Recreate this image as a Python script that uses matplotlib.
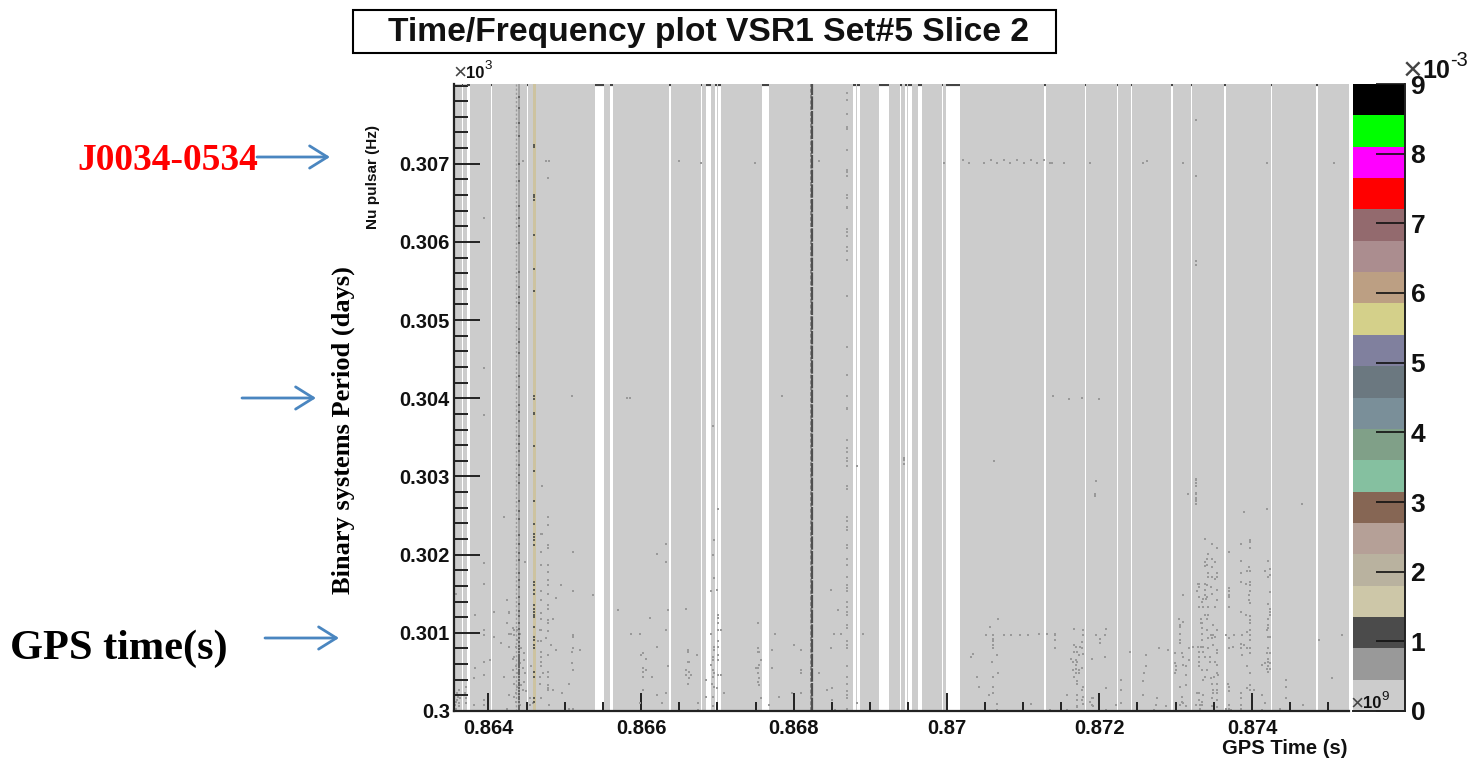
import matplotlib
matplotlib.use("Agg")
import matplotlib.pyplot as plt
import matplotlib.ticker
import numpy as np
from matplotlib.patches import Rectangle, FancyArrowPatch

W, H = 1476, 760
SCALE = 1e-5  # the event lists below are stored in units of 1e-5 (x: 1e9 s, y: 1e3 Hz)

title = "Time/Frequency plot VSR1 Set#5 Slice 2"
x_major = [0.864, 0.866, 0.868, 0.870, 0.872, 0.874]
x_major_labels = ["0.864", "0.866", "0.868", "0.87", "0.872", "0.874"]
y_major = [0.300, 0.301, 0.302, 0.303, 0.304, 0.305, 0.306, 0.307]
y_major_labels = ["0.3", "0.301", "0.302", "0.303", "0.304", "0.305", "0.306", "0.307"]
x_range = [0.86355, 0.87527]
y_range = [0.300, 0.30802]

# segments with no data (start, end)
gaps = [(86365, 86367), (86372, 86376), (86404, 86405), (86450, 86452), (86540, 86551), (86559, 86563),
        (86637, 86639), (86679, 86680), (86685, 86692), (86697, 86699), (86701, 86704), (86758, 86767),
        (86878, 86881), (86883, 86887), (86912, 86925), (86939, 86941), (86946, 86948), (86950, 86955),
        (86962, 86968), (86994, 86995), (86999, 87017), (87128, 87130), (87181, 87183), (87223, 87225),
        (87242, 87243), (87294, 87297), (87320, 87322), (87363, 87366), (87425, 87426), (87484, 87486),
        (87503, 87504)]

tan_band = (86458, 86462)
faint_stripe_times = [86436]
mid_stripe_times = [86440]
dark_stripe_times = [86824]
dark_stripe_side_times = [86822]

tan_dots_t = 86460
tan_dots_f = [30724, 30722, 30660, 30658, 30654, 30609, 30565, 30537, 30403, 30399, 30381, 30380, 30339, 30307,
              30269, 30239, 30227, 30223, 30219, 30212, 30165, 30161, 30155, 30150, 30136, 30131, 30127, 30123,
              30120, 30108, 30095, 30091, 30084, 30080, 30050, 30044, 30016, 30012]

stripe_a_dense_t = 86440
stripe_a_dense_f = [30001, 30004, 30007, 30011, 30015, 30018, 30022, 30026, 30029, 30033, 30036, 30040, 30043, 30047,
                    30050, 30053, 30056, 30059, 30062, 30064, 30066, 30068, 30070, 30072, 30075, 30079, 30083, 30088,
                    30093, 30098, 30105, 30112, 30121, 30128, 30137, 30146, 30158, 30167, 30177, 30193, 30202, 30214,
                    30225, 30245, 30256, 30268, 30291, 30302, 30315, 30333, 30341, 30352, 30371, 30383, 30392, 30415,
                    30429, 30458, 30472, 30489, 30522, 30530, 30542, 30561, 30598, 30620, 30631, 30646, 30678, 30700,
                    30736, 30752, 30771, 30785]

stripe_b_dense_t = 86869
stripe_b_dense_f = [30790, 30781, 30763, 30747, 30745, 30718, 30692, 30690, 30684, 30660, 30656, 30645, 30643, 30616,
                    30613, 30607, 30594, 30588, 30577, 30531, 30466, 30430, 30403, 30388, 30386, 30346, 30337, 30331,
                    30324, 30320, 30314, 30288, 30284, 30248, 30243, 30235, 30231, 30212, 30208, 30195, 30187, 30172,
                    30161, 30157, 30153, 30140, 30133, 30127, 30123, 30110, 30106, 30089, 30084, 30080, 30057, 30044,
                    30035, 30025, 30020, 30016, 30003]

sparse_top = [(86394, 30630), (86394, 30439), (86394, 30378), (86475, 30703), (86480, 30703), (86478, 30682),
              (86445, 30703), (86509, 30403), (86581, 30401), (86585, 30401), (86470, 30288), (86421, 30248),
              (86478, 30248), (86478, 30238), (86470, 30227), (86650, 30703), (86678, 30701), (86749, 30701),
              (86784, 30403), (86833, 30703), (86694, 30365), (86701, 30258), (86997, 30701), (87022, 30705),
              (87030, 30701), (86883, 30314), (86944, 30323), (86944, 30321), (86944, 30316), (87049, 30701),
              (87058, 30705), (87066, 30701), (87075, 30705), (87083, 30701), (87092, 30705), (87102, 30701),
              (87110, 30705), (87119, 30701), (87127, 30705), (87136, 30701), (87138, 30701), (87154, 30701),
              (87188, 30701), (87257, 30701), (87263, 30703), (87310, 30701), (87419, 30701), (87507, 30701),
              (87327, 30756), (87327, 30684), (87327, 30576), (87327, 30571), (87140, 30403), (87160, 30399),
              (87178, 30401), (87200, 30399), (87062, 30320), (87196, 30294), (87194, 30277), (87194, 30275),
              (87316, 30277), (87327, 30297), (87327, 30295), (87327, 30292), (87327, 30288), (87327, 30279),
              (87327, 30277), (87327, 30273), (87327, 30271), (87327, 30269), (87327, 30265), (87390, 30254),
              (87419, 30258), (87465, 30265)]

cluster_left = [(86394, 30189), (86394, 30163), (86394, 30104), (86394, 30097), (86394, 30063), (86394, 30046),
                (86394, 30014), (86394, 30008), (86383, 30123), (86383, 30055), (86381, 30042), (86381, 30008),
                (86407, 30127), (86407, 30095), (86402, 30065), (86358, 30150), (86357, 30012), (86359, 30023),
                (86361, 30006), (86362, 30027), (86358, 30003), (86363, 30016), (86371, 30031), (86370, 30023),
                (86371, 30010), (86371, 30016), (86359, 30014), (86362, 30010), (86356, 30008), (86360, 30018)]

cluster_a = [(86425, 30142), (86427, 30127), (86427, 30125), (86425, 30112), (86432, 30106), (86427, 30099),
             (86430, 30099), (86434, 30104), (86438, 30104), (86441, 30099), (86434, 30097), (86438, 30091),
             (86417, 30087), (86427, 30082), (86436, 30082), (86443, 30080), (86447, 30074), (86447, 30065),
             (86432, 30067), (86434, 30069), (86441, 30061), (86445, 30055), (86436, 30057), (86432, 30052),
             (86421, 30044), (86434, 30044), (86438, 30048), (86448, 30048), (86447, 30037), (86443, 30033),
             (86434, 30035), (86438, 30031), (86427, 30020), (86436, 30023), (86445, 30027), (86449, 30025),
             (86425, 30003), (86436, 30012), (86441, 30008), (86434, 30018), (86448, 30190)]

cluster_b = [(86478, 30212), (86478, 30208), (86478, 30187), (86478, 30178), (86478, 30168), (86478, 30161),
             (86478, 30150), (86478, 30136), (86478, 30131), (86478, 30116), (86478, 30112), (86478, 30102),
             (86478, 30072), (86478, 30050), (86478, 30044), (86478, 30033), (86478, 30029), (86469, 30226),
             (86469, 30203), (86469, 30187), (86469, 30153), (86469, 30142), (86469, 30125), (86469, 30118),
             (86469, 30104), (86469, 30089), (86469, 30076), (86469, 30069), (86469, 30063), (86469, 30057),
             (86469, 30016), (86484, 30118), (86489, 30144), (86495, 30161), (86511, 30203), (86511, 30153),
             (86511, 30097), (86511, 30095), (86511, 30080), (86509, 30076), (86520, 30078), (86509, 30061),
             (86511, 30052), (86537, 30148), (86570, 30129), (86587, 30099), (86505, 30035), (86497, 30023),
             (86489, 30078), (86482, 30084), (86475, 30093), (86467, 30104), (86465, 30089), (86467, 30044),
             (86471, 30048), (86467, 30035), (86484, 30027), (86478, 30027), (86480, 30008), (86505, 30003),
             (86511, 30003), (86456, 30057), (86454, 30016), (86458, 30010), (86455, 30008)]

cluster_c = [(86598, 30099), (86621, 30201), (86633, 30214), (86633, 30190), (86635, 30129), (86612, 30119),
             (86633, 30104), (86621, 30082), (86600, 30072), (86602, 30074), (86606, 30067), (86602, 30055),
             (86606, 30052), (86602, 30050), (86602, 30044), (86614, 30044), (86635, 30057), (86602, 30027),
             (86621, 30020), (86633, 30023), (86598, 30010), (86627, 30010), (86659, 30131), (86661, 30078),
             (86662, 30076), (86661, 30063), (86663, 30063), (86673, 30072), (86659, 30052), (86659, 30046),
             (86663, 30050), (86665, 30046), (86663, 30042), (86661, 30035), (86675, 30010), (86675, 30001),
             (86696, 30219), (86694, 30200), (86696, 30170), (86692, 30153), (86692, 30099), (86700, 30155),
             (86701, 30123), (86701, 30119), (86701, 30112), (86701, 30104), (86705, 30104), (86701, 30089),
             (86696, 30082), (86696, 30078), (86701, 30082), (86701, 30072), (86701, 30065), (86694, 30069),
             (86694, 30065), (86692, 30059), (86694, 30052), (86696, 30048), (86701, 30046), (86705, 30046),
             (86694, 30044), (86685, 30040), (86693, 30035), (86695, 30031), (86700, 30029), (86685, 30018),
             (86694, 30018), (86709, 30023), (86694, 30006)]

cluster_d = [(86753, 30112), (86753, 30080), (86753, 30076), (86755, 30076), (86757, 30065), (86755, 30059),
             (86753, 30055), (86751, 30055), (86753, 30048), (86755, 30042), (86753, 30037), (86755, 30033),
             (86757, 30016), (86768, 30008), (86776, 30099), (86772, 30078), (86772, 30055), (86780, 30018),
             (86800, 30084), (86810, 30078), (86810, 30052), (86810, 30048), (86810, 30023), (86798, 30023),
             (86833, 30048), (86843, 30027), (86850, 30029), (86849, 30080), (86849, 30155), (86858, 30129),
             (86852, 30099), (86862, 30099), (86890, 30099), (86883, 30010), (86850, 30014), (86854, 30001)]

cluster_e = [(87068, 30118), (87057, 30107), (87051, 30097), (87061, 30097), (87075, 30097), (87085, 30097),
             (87096, 30097), (87106, 30097), (87121, 30099), (87131, 30099), (87142, 30099), (87142, 30097),
             (87061, 30092), (87061, 30090), (87061, 30084), (87061, 30080), (87142, 30091), (87142, 30080),
             (87066, 30071), (87034, 30073), (87032, 30069), (87060, 30063), (87068, 30048), (87040, 30044),
             (87061, 30044), (87043, 30031), (87061, 30031), (87061, 30023), (87055, 30021), (87066, 30009),
             (87066, 30001), (87110, 30009), (87136, 30001), (87158, 30021), (87158, 30001)]

cluster_f = [(87167, 30105), (87179, 30103), (87179, 30097), (87167, 30084), (87169, 30082), (87177, 30088),
             (87175, 30082), (87177, 30080), (87167, 30075), (87171, 30075), (87179, 30073), (87173, 30071),
             (87163, 30067), (87169, 30065), (87166, 30063), (87171, 30063), (87169, 30059), (87177, 30055),
             (87165, 30053), (87169, 30054), (87173, 30052), (87169, 30048), (87173, 30048), (87167, 30044),
             (87171, 30038), (87171, 30035), (87179, 30031), (87177, 30027), (87171, 30021), (87179, 30018),
             (87171, 30014), (87177, 30014), (87179, 30009), (87171, 30007), (87171, 30005), (87190, 30067),
             (87196, 30097), (87207, 30097), (87209, 30105), (87201, 30092), (87201, 30087), (87207, 30069),
             (87209, 30029), (87190, 30016), (87192, 30016), (87188, 30012), (87190, 30008), (87192, 30006),
             (87209, 30001), (87222, 30008), (87228, 30040), (87228, 30027), (87228, 30010), (87240, 30075),
             (87261, 30071), (87261, 30057), (87259, 30048), (87257, 30038), (87257, 30020), (87276, 30016),
             (87274, 30008), (87272, 30001), (87278, 30081)]

cluster_g = [(87339, 30220), (87347, 30214), (87354, 30209), (87343, 30201), (87347, 30194), (87341, 30194),
             (87352, 30190), (87339, 30190), (87339, 30186), (87341, 30187), (87347, 30184), (87343, 30177),
             (87354, 30177), (87343, 30171), (87347, 30171), (87352, 30169), (87354, 30171), (87329, 30163),
             (87330, 30163), (87339, 30163), (87341, 30161), (87346, 30159), (87330, 30159), (87338, 30155),
             (87354, 30155), (87328, 30153), (87347, 30150), (87339, 30148), (87330, 30146), (87341, 30146),
             (87336, 30143), (87340, 30143), (87354, 30142), (87334, 30140), (87330, 30133), (87336, 30133),
             (87343, 30133), (87352, 30133), (87339, 30123), (87343, 30123), (87333, 30118), (87341, 30118),
             (87333, 30112), (87335, 30112), (87349, 30110), (87334, 30106), (87341, 30104), (87335, 30099),
             (87354, 30104), (87346, 30097), (87349, 30097), (87352, 30095), (87342, 30093), (87347, 30093),
             (87335, 30091), (87333, 30082), (87329, 30082), (87323, 30082), (87336, 30082), (87343, 30080),
             (87349, 30084), (87354, 30078), (87354, 30074), (87331, 30076), (87336, 30076), (87338, 30069),
             (87345, 30069), (87331, 30069), (87330, 30063), (87345, 30063), (87352, 30063), (87354, 30059),
             (87341, 30052), (87330, 30057), (87334, 30052), (87336, 30040), (87339, 30044), (87346, 30042),
             (87350, 30044), (87354, 30048), (87356, 30046), (87347, 30035), (87354, 30035), (87349, 30027),
             (87354, 30027), (87349, 30023), (87328, 30023), (87330, 30023), (87336, 30020), (87354, 30023),
             (87347, 30016), (87330, 30014), (87334, 30012), (87354, 30014), (87327, 30008), (87332, 30008),
             (87335, 30008), (87347, 30006), (87332, 30003), (87354, 30005)]

cluster_h = [(87306, 30110), (87304, 30118), (87310, 30114), (87306, 30108), (87306, 30099), (87306, 30091),
             (87306, 30087), (87290, 30078), (87299, 30074), (87308, 30074), (87310, 30069), (87317, 30080),
             (87318, 30065), (87299, 30061), (87301, 30057), (87301, 30052), (87299, 30048), (87310, 30059),
             (87314, 30057), (87314, 30046), (87306, 30031), (87314, 30033), (87308, 30018), (87308, 30012),
             (87310, 30010), (87306, 30008), (87314, 30006), (87288, 30006), (87310, 30148)]

cluster_i = [(87398, 30219), (87398, 30216), (87398, 30209), (87385, 30214), (87370, 30203), (87385, 30192),
             (87396, 30184), (87394, 30179), (87398, 30179), (87385, 30176), (87385, 30165), (87392, 30163),
             (87398, 30165), (87398, 30161), (87398, 30153), (87396, 30148), (87396, 30142), (87398, 30138),
             (87370, 30157), (87370, 30153), (87370, 30148), (87370, 30146), (87370, 30133), (87385, 30127),
             (87392, 30123), (87398, 30121), (87398, 30116), (87398, 30112), (87398, 30104), (87394, 30101),
             (87398, 30097), (87398, 30091), (87366, 30097), (87376, 30097), (87387, 30097), (87370, 30093),
             (87385, 30086), (87385, 30080), (87375, 30082), (87370, 30080), (87390, 30084), (87394, 30080),
             (87398, 30080), (87398, 30074), (87387, 30072), (87394, 30057), (87398, 30048), (87368, 30035),
             (87370, 30031), (87370, 30025), (87385, 30023), (87385, 30016), (87394, 30029), (87398, 30033),
             (87398, 30027), (87403, 30027), (87413, 30020), (87417, 30010), (87413, 30001), (87385, 30008),
             (87386, 30003), (87370, 30008), (87366, 30003), (87370, 30003), (87373, 30001)]

cluster_j = [(87421, 30192), (87423, 30182), (87417, 30179), (87423, 30174), (87421, 30171), (87423, 30152),
             (87421, 30137), (87423, 30131), (87423, 30127), (87423, 30123), (87421, 30118), (87421, 30110),
             (87421, 30106), (87420, 30104), (87421, 30095), (87423, 30095), (87421, 30080), (87420, 30074),
             (87423, 30074), (87421, 30067), (87421, 30063), (87417, 30061), (87413, 30059), (87423, 30061),
             (87421, 30057), (87419, 30054), (87423, 30054), (87421, 30050), (87444, 30040), (87444, 30031),
             (87444, 30016), (87436, 30003), (87467, 30008), (87488, 30091), (87518, 30097), (87505, 30042)]

colorbar_colors = ["#cccccc", "#999999", "#4b4b4b", "#cdc7a8", "#b9b29f", "#b5a097", "#866654", "#85c0a0",
                   "#80a088", "#7a8f99", "#6b7880", "#80809e", "#d4d08a", "#bc9f83", "#ab8d8f", "#936a6e",
                   "#ff0000", "#ff00ff", "#00ff00", "#000000"]
colorbar_ticks = [0, 1, 2, 3, 4, 5, 6, 7, 8, 9]
colorbar_top = 9.0


def box(l, t, r, b):
    return [l / W, 1 - b / H, (r - l) / W, (b - t) / H]


def ftext(x, y, s, **kw):
    return fig.text(x / W, 1 - y / H, s, **kw)


SANS = "Liberation Sans"
SERIF = "Liberation Serif"
fig = plt.figure(figsize=(W / 100, H / 100), dpi=100, facecolor="white")

# main plot
ax = fig.add_axes(box(454, 84, 1349, 711), facecolor="#cccccc")
ax.set_xlim(*x_range)
ax.set_ylim(*y_range)

for g0, g1 in gaps:
    ax.axvspan(g0 * SCALE, g1 * SCALE, color="white", lw=0, zorder=1)
    ax.hlines(y_range[1], g0 * SCALE, g1 * SCALE, color="#444444", lw=3.0, zorder=2)

ax.axvspan(tan_band[0] * SCALE, tan_band[1] * SCALE, color="#cdc3a0", lw=0, zorder=1.5)

ax.vlines(np.array(faint_stripe_times) * SCALE, y_range[0], y_range[1], color="#9a9a9a", lw=1.0,
          linestyles=(0, (1.5, 1.5)), zorder=2)
ax.vlines(np.array(mid_stripe_times) * SCALE, y_range[0], y_range[1], color="#9f9f9f", lw=1.3, zorder=2)
ax.vlines(np.array(dark_stripe_side_times) * SCALE, y_range[0], y_range[1], color="#8c8c8c", lw=1.4,
          linestyles=(0, (2, 1)), zorder=2)
ax.vlines(np.array(dark_stripe_times) * SCALE, y_range[0], y_range[1], color="#505050", lw=1.6,
          linestyles=(0, (6, 0.6)), zorder=2)

grey_clusters = [sparse_top, cluster_left, cluster_a, cluster_b, cluster_c, cluster_d, cluster_e,
                 cluster_f, cluster_g, cluster_h, cluster_i, cluster_j]
for cl in grey_clusters:
    ts, fs = zip(*cl)
    ax.scatter(np.array(ts) * SCALE, np.array(fs) * SCALE, s=1.9, marker="s", color="#999999", lw=0, zorder=3)

ax.scatter(np.full(len(stripe_b_dense_f), stripe_b_dense_t) * SCALE, np.array(stripe_b_dense_f) * SCALE,
           s=1.9, marker="s", color="#9c9c9c", lw=0, zorder=3)
ax.scatter(np.full(len(stripe_a_dense_f), stripe_a_dense_t) * SCALE, np.array(stripe_a_dense_f) * SCALE,
           s=2.2, marker="s", color="#666666", lw=0, zorder=3)
ax.scatter(np.full(len(tan_dots_f), tan_dots_t) * SCALE, np.array(tan_dots_f) * SCALE,
           s=2.4, marker="s", color="#5a5a50", lw=0, zorder=3)

for side in ["top", "right"]:
    ax.spines[side].set_visible(False)
for side in ["left", "bottom"]:
    ax.spines[side].set_linewidth(1.6)
    ax.spines[side].set_color("#222222")
    ax.spines[side].set_zorder(5)

ax.set_xticks(x_major, x_major_labels, fontfamily=SANS, fontweight="bold", fontsize=14.5, color="#111111")
ax.set_yticks(y_major, y_major_labels, fontfamily=SANS, fontweight="bold", fontsize=14.5, color="#111111")
ax.xaxis.set_minor_locator(matplotlib.ticker.MultipleLocator(0.0005))
ax.yaxis.set_minor_locator(matplotlib.ticker.MultipleLocator(0.0002))
ax.tick_params(axis="x", which="major", direction="in", length=13, width=1.4, color="#222222", pad=6)
ax.tick_params(axis="x", which="minor", direction="in", length=6.5, width=1.4, color="#222222")
ax.tick_params(axis="y", which="major", direction="in", length=19, width=1.4, color="#222222", pad=3)
ax.tick_params(axis="y", which="minor", direction="in", length=10, width=1.4, color="#222222")

# palette
cax = fig.add_axes(box(1353, 84, 1405, 711))
edges = np.linspace(0, colorbar_top, len(colorbar_colors) + 1)
for c, y0, y1 in zip(colorbar_colors, edges[:-1], edges[1:]):
    cax.axhspan(y0, y1, color=c, lw=0)
cax.set_xlim(0, 1)
cax.set_ylim(0, colorbar_top)
cax.set_xticks([])
cax.yaxis.tick_right()
cax.set_yticks(colorbar_ticks, [str(v) for v in colorbar_ticks], fontfamily=SANS, fontweight="bold", fontsize=19,
               color="#111111")
cax.tick_params(axis="y", direction="in", length=21, width=1.2, color="#111111", pad=4)
for side in ["top", "left"]:
    cax.spines[side].set_visible(False)
for side in ["right", "bottom"]:
    cax.spines[side].set_linewidth(1.4)
    cax.spines[side].set_color("#222222")

# title box
fig.add_artist(Rectangle((353 / W, 1 - 53 / H), 703 / W, 43 / H, transform=fig.transFigure,
                         facecolor="white", edgecolor="black", lw=1.5))
ftext(709, 32, title, ha="center", va="center", fontfamily=SANS, fontweight="bold", fontsize=24.2, color="#111111")

# axis titles
ftext(373, 177, "Nu pulsar (Hz)", rotation=90, ha="center", va="center", fontfamily=SANS, fontweight="bold",
      fontsize=11, color="#111111")
ftext(1347, 749, "GPS Time (s)", ha="right", va="center", fontfamily=SANS, fontweight="bold", fontsize=14.6,
      color="#111111")


def multiplier(x, y, exp, size):
    ftext(x, y, "×", ha="left", va="center", fontfamily=SANS, fontsize=size * 1.35, color="#444444")
    ftext(x + size * 1.06, y, "10", ha="left", va="center", fontfamily=SANS, fontweight="bold", fontsize=size,
          color="#111111")
    ftext(x + size * 2.6, y - size * 0.6, exp, ha="left", va="center", fontfamily=SANS, fontsize=size * 0.8,
          color="#111111")


multiplier(453, 73, "3", 12)
multiplier(1350, 704, "9", 12)
multiplier(1403, 71, "-3", 18)

# annotations added on top of the plot
ftext(77, 161, "J0034-0534", ha="left", va="center", fontfamily=SERIF, fontweight="bold", fontsize=27, color="#ff0000")
ftext(10, 649, "GPS time(s)", ha="left", va="center", fontfamily=SERIF, fontweight="bold", fontsize=30.5, color="#000000")
ftext(343, 430, "Binary systems Period (days)", rotation=90, ha="center", va="center", fontfamily=SERIF,
      fontweight="bold", fontsize=19, color="#000000")

for x0, x1, y in [(257, 330, 157), (242, 316, 398), (265, 339, 638)]:
    fig.add_artist(FancyArrowPatch(
        (x0 / W, 1 - y / H), (x1 / W, 1 - y / H), transform=fig.transFigure, arrowstyle="->,head_length=8,head_width=5",
        color="#4a86c0", lw=2, shrinkA=0, shrinkB=0, mutation_scale=1.6))

fig.savefig("out.png", dpi=100, facecolor="white")
